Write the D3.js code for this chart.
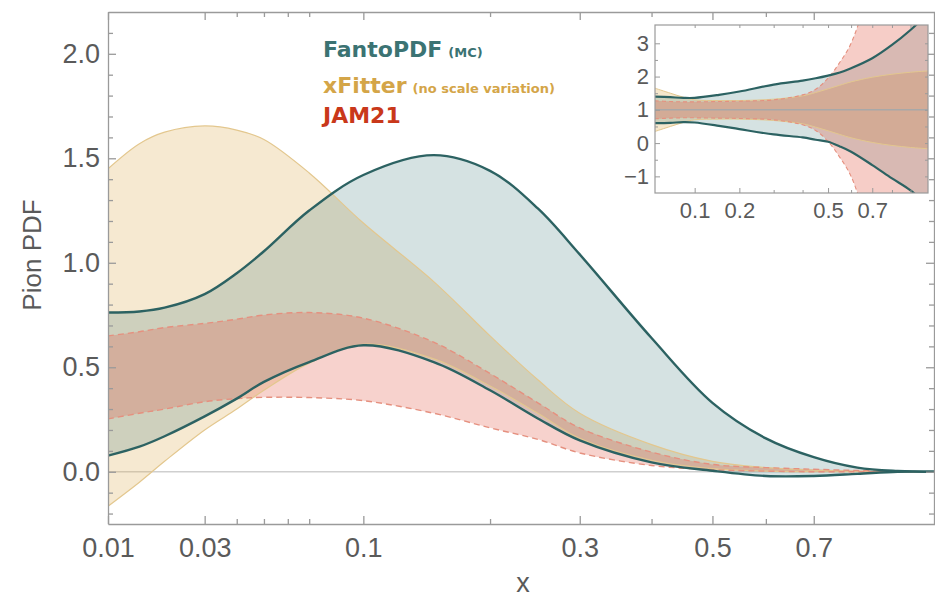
<!DOCTYPE html>
<html>
<head>
<meta charset="utf-8">
<script src="https://cdn.jsdelivr.net/npm/d3@7"></script>
<style>
  body { margin: 0; background: #fff; }
  svg { display: block; }
  .axis text { font-family: "Liberation Sans", Arial, sans-serif; fill: #5a5a5a; }
  .axis path, .axis line { stroke: #9a9a9a; stroke-width: 1.3; }
</style>
</head>
<body>
<div id="chart"></div>
<script>
// main panel: pion PDF bands
const xGrid     = [0.01, 0.015, 0.02, 0.03, 0.04, 0.05, 0.07, 0.1, 0.15, 0.2, 0.25, 0.3, 0.4, 0.5, 0.6, 0.7, 0.8, 0.9, 1.0];
const fantoHi   = [0.762, 0.767, 0.785, 0.85, 0.95, 1.055, 1.25, 1.42, 1.515, 1.44, 1.26, 1.04, 0.64, 0.33, 0.16, 0.07, 0.02, 0.004, 0];
const fantoLo   = [0.077, 0.12, 0.17, 0.265, 0.35, 0.43, 0.525, 0.605, 0.525, 0.39, 0.255, 0.15, 0.045, 0.005, -0.02, -0.02, -0.01, 0, 0];
const xfitterHi = [1.45, 1.57, 1.625, 1.655, 1.635, 1.59, 1.43, 1.19, 0.91, 0.65, 0.44, 0.28, 0.13, 0.05, 0.02, 0.008, 0.003, 0.001, 0];
const xfitterLo = [-0.165, -0.05, 0.05, 0.2, 0.3, 0.39, 0.52, 0.61, 0.54, 0.41, 0.28, 0.16, 0.055, 0.015, 0.003, 0, 0, 0, 0];
const jamHi     = [0.65, 0.67, 0.69, 0.71, 0.73, 0.75, 0.762, 0.735, 0.62, 0.47, 0.33, 0.21, 0.094, 0.035, 0.02, 0.012, 0.006, 0.002, 0];
const jamLo     = [0.253, 0.28, 0.30, 0.335, 0.35, 0.356, 0.355, 0.34, 0.28, 0.21, 0.155, 0.09, 0.03, 0.01, 0.003, 0, 0, 0, 0];

const xMajor = [0.01, 0.03, 0.1, 0.3, 0.5, 0.7];
const xMinor = [0.04, 0.05, 0.06, 0.07, 0.2, 0.4, 0.6];
const yMajor = [0, 0.5, 1, 1.5, 2];

// inset: ratio to central value
const insetX       = [0.04, 0.06, 0.08, 0.1, 0.15, 0.2, 0.3, 0.4, 0.45, 0.5, 0.55, 0.6, 0.7, 0.8, 0.9, 1.0];
const insetFantoHi = [1.40, 1.38, 1.36, 1.36, 1.45, 1.55, 1.76, 1.88, 1.95, 2.03, 2.12, 2.25, 2.55, 2.95, 3.4, 3.9];
const insetFantoLo = [0.60, 0.61, 0.63, 0.62, 0.52, 0.42, 0.26, 0.17, 0.10, 0.04, -0.1, -0.26, -0.66, -1.06, -1.42, -1.9];
const insetXfHi    = [1.65, 1.5, 1.38, 1.3, 1.28, 1.28, 1.32, 1.42, 1.52, 1.63, 1.74, 1.84, 1.98, 2.07, 2.13, 2.17];
const insetXfLo    = [0.35, 0.5, 0.62, 0.7, 0.72, 0.72, 0.68, 0.58, 0.48, 0.37, 0.26, 0.16, 0.02, -0.07, -0.13, -0.17];
const insetJamHi   = [1.27, 1.25, 1.24, 1.24, 1.25, 1.26, 1.3, 1.45, 1.62, 1.95, 2.43, 3.0, 5, 8, 11, 14];
const insetJamLo   = [0.73, 0.75, 0.76, 0.76, 0.75, 0.74, 0.7, 0.55, 0.38, 0.05, -0.43, -1.0, -3, -6, -9, -12];
const insetXMajor = [0.1, 0.2, 0.5, 0.7];
const insetXMinor = [0.3, 0.4, 0.6, 0.8, 0.9];
const insetYMajor = [-1, 0, 1, 2, 3];
const insetYMinor = [-0.5, 0.5, 1.5, 2.5];

const W = 935, H = 599;
const plot = { left: 108, right: 935, top: 12, bottom: 524 };

const colors = {
  fanto: { fill: "rgb(58,119,120)", line: "#2c6262", text: "#3b7373" },
  xfitter: { fill: "rgb(222,175,85)", line: "#e3c78e", text: "#d4a548" },
  jam: { fill: "rgb(225,90,70)", line: "#e5907f", text: "#c9381a" }
};

const svg = d3.select("#chart").append("svg")
  .attr("width", W).attr("height", H);

const x = d3.scalePow().exponent(0.35).domain([0.01, 1]).range([plot.left, plot.right]);
const y = d3.scaleLinear().domain([-0.25, 2.2]).range([plot.bottom, plot.top]);

svg.append("clipPath").attr("id", "clip-main")
  .append("rect")
  .attr("x", plot.left).attr("y", plot.top)
  .attr("width", plot.right - plot.left).attr("height", plot.bottom - plot.top);

const rows = (xs, lo, hi) => xs.map((v, i) => ({ x: v, lo: lo[i], hi: hi[i] }));
const curve = d3.curveCatmullRom.alpha(0.5);

// draw one band fill; returns a function drawing its two edges
const drawBand = (g, data, sx, sy, c, edge) => {
  const area = d3.area().curve(curve)
    .x(d => sx(d.x)).y0(d => sy(d.lo)).y1(d => sy(d.hi));
  g.append("path").attr("d", area(data))
    .attr("fill", c.fill).attr("fill-opacity", edge.opacity);
  return () => {
    ["lo", "hi"].forEach(k => {
      const line = d3.line().curve(curve).x(d => sx(d.x)).y(d => sy(d[k]));
      g.append("path").attr("d", line(data))
        .attr("fill", "none")
        .attr("stroke", c.line)
        .attr("stroke-width", edge.width)
        .attr("stroke-dasharray", edge.dash || null);
    });
  };
};

// ---- main panel ----
const main = svg.append("g").attr("clip-path", "url(#clip-main)");

main.append("line")
  .attr("x1", plot.left).attr("x2", plot.right)
  .attr("y1", y(0)).attr("y2", y(0))
  .attr("stroke", "#cfcfcf").attr("stroke-width", 1.5);

const edges = [
  drawBand(main, rows(xGrid, xfitterLo, xfitterHi), x, y, colors.xfitter, { opacity: 0.27, width: 1.2 }),
  drawBand(main, rows(xGrid, fantoLo, fantoHi), x, y, colors.fanto, { opacity: 0.21, width: 2.4 }),
  drawBand(main, rows(xGrid, jamLo, jamHi), x, y, colors.jam, { opacity: 0.27, width: 1.4, dash: "6,4" })
];
edges[0](); edges[2](); edges[1]();

// axes with inward ticks
const fmtX = d => String(d);
svg.append("g").attr("class", "axis")
  .attr("transform", `translate(0,${plot.bottom})`)
  .call(d3.axisBottom(x).tickValues(xMajor).tickSize(-8).tickSizeOuter(0).tickPadding(14).tickFormat(fmtX))
  .call(g => g.selectAll("text").style("font-size", "27px"));
svg.append("g").attr("class", "axis")
  .attr("transform", `translate(0,${plot.bottom})`)
  .call(d3.axisBottom(x).tickValues(xMinor).tickSize(-5).tickSizeOuter(0).tickFormat(""))
  .call(g => g.select(".domain").remove());
svg.append("g").attr("class", "axis")
  .attr("transform", `translate(0,${plot.top})`)
  .call(d3.axisTop(x).tickValues(xMajor).tickSize(-8).tickSizeOuter(0).tickFormat(""));
svg.append("g").attr("class", "axis")
  .attr("transform", `translate(0,${plot.top})`)
  .call(d3.axisTop(x).tickValues(xMinor).tickSize(-5).tickSizeOuter(0).tickFormat(""))
  .call(g => g.select(".domain").remove());

const yMinor = d3.range(-2, 22).map(d => d / 10).filter(d => !yMajor.includes(d));
svg.append("g").attr("class", "axis")
  .attr("transform", `translate(${plot.left},0)`)
  .call(d3.axisLeft(y).tickValues(yMajor).tickSize(-8).tickSizeOuter(0).tickPadding(8).tickFormat(d3.format(".1f")))
  .call(g => g.selectAll("text").style("font-size", "27px"));
svg.append("g").attr("class", "axis")
  .attr("transform", `translate(${plot.left},0)`)
  .call(d3.axisLeft(y).tickValues(yMinor).tickSize(-5).tickSizeOuter(0).tickFormat(""))
  .call(g => g.select(".domain").remove());
svg.append("g").attr("class", "axis")
  .attr("transform", `translate(${plot.right - 1},0)`)
  .call(d3.axisRight(y).tickValues(yMajor).tickSize(-8).tickSizeOuter(0).tickFormat(""));
svg.append("g").attr("class", "axis")
  .attr("transform", `translate(${plot.right - 1},0)`)
  .call(d3.axisRight(y).tickValues(yMinor).tickSize(-5).tickSizeOuter(0).tickFormat(""))
  .call(g => g.select(".domain").remove());

// axis titles
svg.append("text")
  .attr("x", 523).attr("y", 592)
  .attr("text-anchor", "middle")
  .style("font-family", "Liberation Sans, Arial, sans-serif")
  .style("font-size", "27px").style("fill", "#5a5a5a")
  .text("x");
svg.append("text")
  .attr("transform", "translate(41,255) rotate(-90)")
  .attr("text-anchor", "middle")
  .style("font-family", "Liberation Sans, Arial, sans-serif")
  .style("font-size", "26px").style("fill", "#5a5a5a")
  .text("Pion PDF");

// legend
const legend = [
  { name: "FantoPDF", note: "(MC)", c: colors.fanto.text, y: 57 },
  { name: "xFitter", note: "(no scale variation)", c: colors.xfitter.text, y: 93 },
  { name: "JAM21", note: "", c: colors.jam.text, y: 123 }
];
legend.forEach(d => {
  const t = svg.append("text")
    .attr("x", 323).attr("y", d.y)
    .style("font-family", "DejaVu Sans, sans-serif")
    .style("font-weight", "bold")
    .style("fill", d.c);
  t.append("tspan").style("font-size", "22px").text(d.name);
  if (d.note) t.append("tspan").attr("dx", 6).style("font-size", "13px").text(d.note);
});

// ---- inset ----
const ins = { left: 655, right: 928, top: 25, bottom: 193 };
const ix = d3.scaleSqrt().domain([0.04, 1]).range([ins.left, ins.right]);
const iy = d3.scaleLinear().domain([-1.5, 3.55]).range([ins.bottom, ins.top]);

svg.append("rect")
  .attr("x", ins.left).attr("y", ins.top)
  .attr("width", ins.right - ins.left).attr("height", ins.bottom - ins.top)
  .attr("fill", "#fff");

svg.append("clipPath").attr("id", "clip-inset")
  .append("rect")
  .attr("x", ins.left).attr("y", ins.top)
  .attr("width", ins.right - ins.left).attr("height", ins.bottom - ins.top);

const inset = svg.append("g").attr("clip-path", "url(#clip-inset)");
const insetEdges = [
  drawBand(inset, rows(insetX, insetXfLo, insetXfHi), ix, iy, colors.xfitter, { opacity: 0.3, width: 1 }),
  drawBand(inset, rows(insetX, insetFantoLo, insetFantoHi), ix, iy, colors.fanto, { opacity: 0.21, width: 2.2 }),
  drawBand(inset, rows(insetX, insetJamLo, insetJamHi), ix, iy, colors.jam, { opacity: 0.3, width: 1.1, dash: "4,3" })
];
inset.append("line")
  .attr("x1", ins.left).attr("x2", ins.right)
  .attr("y1", iy(1)).attr("y2", iy(1))
  .attr("stroke", "#a8a8a8").attr("stroke-width", 1.5);
insetEdges[0](); insetEdges[2](); insetEdges[1]();

svg.append("rect")
  .attr("x", ins.left).attr("y", ins.top)
  .attr("width", ins.right - ins.left).attr("height", ins.bottom - ins.top)
  .attr("fill", "none").attr("stroke", "#9a9a9a").attr("stroke-width", 1.2);

const insetAxis = (axis, tx, ty, big) => {
  svg.append("g").attr("class", "axis")
    .attr("transform", `translate(${tx},${ty})`)
    .call(axis)
    .call(g => g.select(".domain").remove())
    .call(g => g.selectAll("line").style("stroke-width", 1))
    .call(g => g.selectAll("text").style("font-size", big ? "22px" : "0px"));
};
insetAxis(d3.axisBottom(ix).tickValues(insetXMajor).tickSize(-5).tickSizeOuter(0).tickPadding(9).tickFormat(fmtX), 0, ins.bottom, true);
insetAxis(d3.axisBottom(ix).tickValues(insetXMinor).tickSize(-3).tickFormat(""), 0, ins.bottom, false);
insetAxis(d3.axisTop(ix).tickValues(insetXMajor.concat(insetXMinor)).tickSize(-3).tickFormat(""), 0, ins.top, false);
insetAxis(d3.axisLeft(iy).tickValues(insetYMajor).tickSize(-5).tickSizeOuter(0).tickPadding(6)
  .tickFormat(d => d < 0 ? "\u2212" + Math.abs(d) : String(d)), ins.left, 0, true);
insetAxis(d3.axisLeft(iy).tickValues(insetYMinor).tickSize(-3).tickFormat(""), ins.left, 0, false);
insetAxis(d3.axisRight(iy).tickValues(insetYMajor.concat(insetYMinor)).tickSize(-3).tickFormat(""), ins.right, 0, false);
</script>
</body>
</html>
